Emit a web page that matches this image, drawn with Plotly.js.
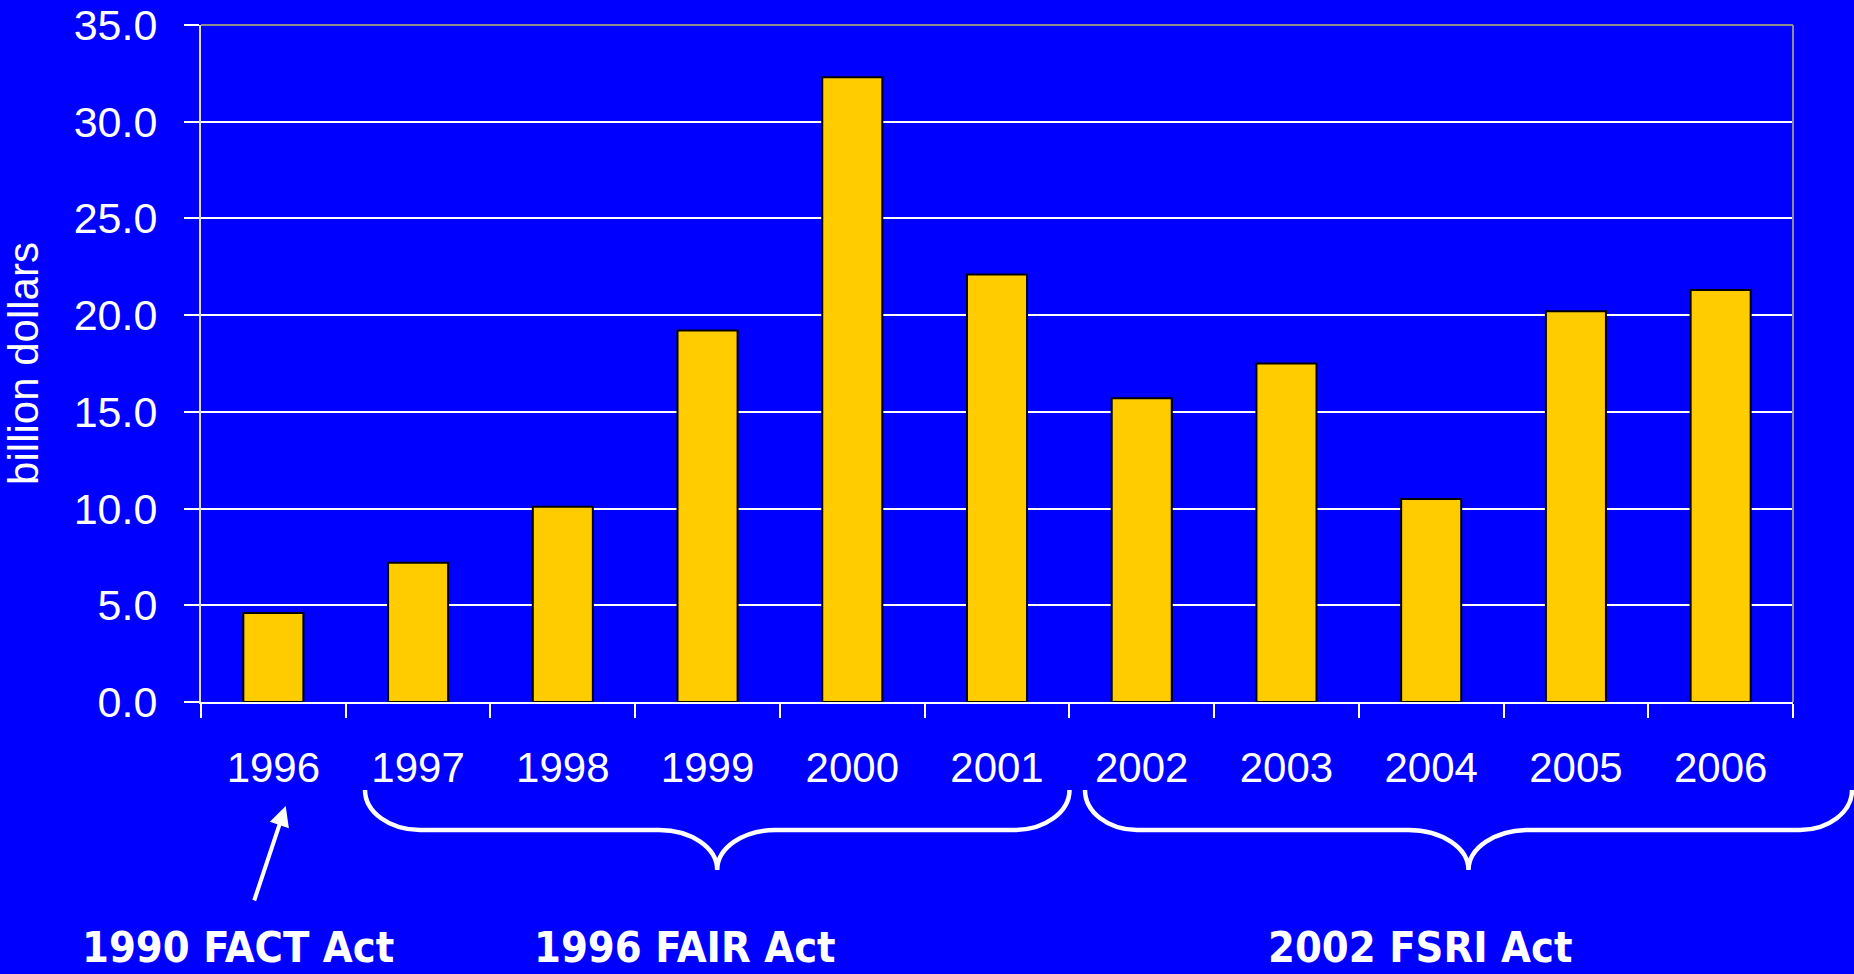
<!DOCTYPE html>
<html>
<head>
<meta charset="utf-8">
<script src="https://cdn.plot.ly/plotly-3.0.1.min.js"></script>
<style>
html,body{margin:0;padding:0;background:#0000FF;}
#chart{width:1854px;height:974px;}
</style>
</head>
<body>
<div id="chart"></div>
<script>
// ---- data ----
const years = ['1996','1997','1998','1999','2000','2001','2002','2003','2004','2005','2006'];
const values = [4.6, 7.2, 10.1, 19.2, 32.3, 22.1, 15.7, 17.5, 10.5, 20.2, 21.3];
const yTickValues = [0, 5, 10, 15, 20, 25, 30, 35];
const yAxisTitle = 'billion dollars';
const actLabels = ['1990 FACT Act', '1996 FAIR Act', '2002 FSRI Act'];

// ---- layout geometry (pixels) ----
const W = 1854, H = 974;
const M = {l: 201, r: 61, t: 25, b: 272};
const PW = W - M.l - M.r, PH = H - M.t - M.b;
const px = x => (x - M.l) / PW;
const py = y => (M.t + PH - y) / PH;

function bracePath(x0, x1, xc, yTop, yBar, yTip, endW, midW) {
  const k = 0.552;
  const dy = yBar - yTop, dy2 = yTip - yBar;
  const P = (x, y) => px(x).toFixed(5) + ',' + py(y).toFixed(5);
  return 'M' + P(x0, yTop) +
    ' C' + P(x0, yTop + k * dy) + ' ' + P(x0 + endW - k * endW, yBar) + ' ' + P(x0 + endW, yBar) +
    ' L' + P(xc - midW, yBar) +
    ' C' + P(xc - midW + k * midW, yBar) + ' ' + P(xc, yTip - k * dy2) + ' ' + P(xc, yTip) +
    ' C' + P(xc, yTip - k * dy2) + ' ' + P(xc + midW - k * midW, yBar) + ' ' + P(xc + midW, yBar) +
    ' L' + P(x1 - endW, yBar) +
    ' C' + P(x1 - endW + k * endW, yBar) + ' ' + P(x1, yTop + k * dy) + ' ' + P(x1, yTop);
}

const trace = {
  type: 'bar',
  x: years,
  y: values,
  marker: {color: '#FFCC00', line: {color: '#000000', width: 2}},
  hoverinfo: 'x+y'
};

const tickFont = {family: 'Liberation Sans, Arial, sans-serif', size: 42, color: '#FFFFFF'};
const actFont = {family: 'DejaVu Sans Condensed, DejaVu Sans, sans-serif', size: 43, color: '#FFFFFF', weight: 'bold'};
const actCenters = [238, 685, 1420];

const annotations = actLabels.map((t, i) => ({
  xref: 'paper', yref: 'paper',
  x: px(actCenters[i]), y: py(973),
  xanchor: 'center', yanchor: 'bottom',
  borderpad: 0,
  text: t, showarrow: false,
  font: actFont
}));
annotations.push({
  xref: 'paper', yref: 'paper',
  x: px(285.7), y: py(806),
  text: '', showarrow: true,
  ax: -32, ay: 96,
  arrowcolor: '#FFFFFF', arrowwidth: 4, arrowhead: 2, arrowsize: 1
});

const shapes = [
  {type: 'path', xref: 'paper', yref: 'paper', layer: 'above',
   path: bracePath(365, 1069.5, 717.2, 790, 830, 870, 55, 58),
   line: {color: '#FFFFFF', width: 4.5}},
  {type: 'path', xref: 'paper', yref: 'paper', layer: 'above',
   path: bracePath(1085, 1852, 1468.5, 790, 830, 870, 52, 60),
   line: {color: '#FFFFFF', width: 4.5}},
  {type: 'line', xref: 'paper', yref: 'paper', layer: 'above',
   x0: 0, x1: 1, y0: 1, y1: 1, line: {color: '#8C8C8C', width: 2}},
  {type: 'line', xref: 'paper', yref: 'paper', layer: 'above',
   x0: 1, x1: 1, y0: 0, y1: 1, line: {color: '#8C8C8C', width: 2}}
];

const layout = {
  width: W, height: H,
  margin: M,
  paper_bgcolor: '#0000FF',
  plot_bgcolor: '#0000FF',
  showlegend: false,
  bargap: 0.585,
  xaxis: {
    type: 'category',
    tickson: 'boundaries',
    ticks: 'outside', ticklen: 14, tickwidth: 2, tickcolor: '#FFFFFF',
    showline: true, linecolor: '#FFFFFF', linewidth: 2,
    showgrid: false, zeroline: false,
    tickfont: tickFont,
    ticklabelstandoff: 28,
    fixedrange: true
  },
  yaxis: {
    range: [0, 35],
    tickvals: yTickValues,
    tickformat: '.1f',
    ticks: 'outside', ticklen: 15, tickwidth: 2, tickcolor: '#FFFFFF',
    showline: true, linecolor: '#DDDDDD', linewidth: 2,
    showgrid: true, gridcolor: '#FFFFFF', gridwidth: 2,
    zeroline: false,
    tickfont: {family: 'Liberation Sans, Arial, sans-serif', size: 43, color: '#FFFFFF'},
    ticklabelstandoff: 18,
    title: {text: yAxisTitle, font: tickFont, standoff: 34},
    fixedrange: true
  },
  annotations: annotations,
  shapes: shapes
};

Plotly.newPlot('chart', [trace], layout, {displayModeBar: false, staticPlot: true});
</script>
</body>
</html>
